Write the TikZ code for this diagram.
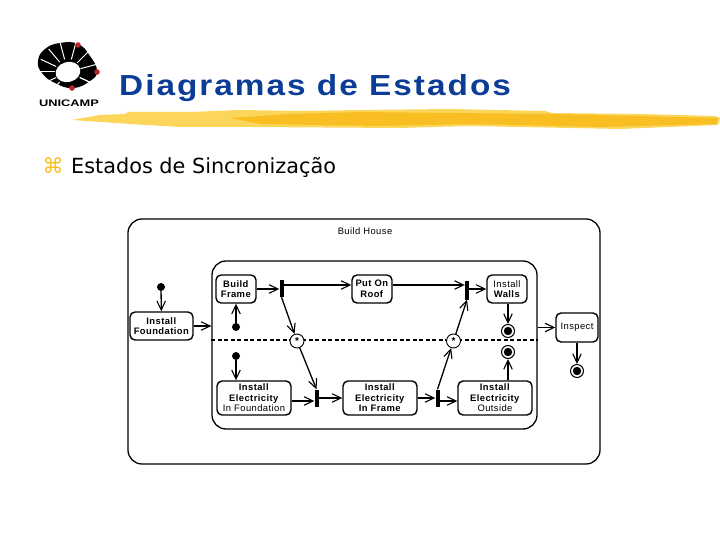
\documentclass[tikz,border=0pt]{standalone}
\usepackage{fontspec}
\usepackage{xcolor}
\usetikzlibrary{arrows.meta}
\setmainfont{Liberation Sans}
\newfontfamily\bodyfont{DejaVu Sans}
\newfontfamily\titlefont[LetterSpace=6,BoldFont={Liberation Sans Bold}]{Liberation Sans}
\newfontfamily\diagfont[LetterSpace=4.5,BoldFont={Liberation Sans Bold}]{Liberation Sans}
\definecolor{titleblue}{HTML}{0B3C96}
\definecolor{brushlight}{HTML}{FBD65A}
\definecolor{brushdark}{HTML}{F8BE22}
\definecolor{logored}{HTML}{B5232B}
\tikzset{
  statebox/.style={draw,line width=1.4pt,rounded corners=5pt,align=center,inner sep=0pt,font=\diagfont\fontsize{9.4}{10.6}\selectfont},
  regionbox/.style={draw,line width=1.3pt,rounded corners=14pt,inner sep=0pt},
  syncbar/.style={fill=black,inner sep=0pt,minimum width=4pt,minimum height=17pt},
  syncstar/.style={draw,circle,fill=white,line width=.9pt,minimum size=14pt,inner sep=0pt,font=\fontsize{10}{10}\selectfont\bfseries},
  startdot/.style={fill=black,circle,minimum size=8pt,inner sep=0pt},
  enddot/.style={draw,circle,line width=1pt,minimum size=13pt,inner sep=0pt,path picture={\fill (path picture bounding box.center) circle (4.2pt);}},
  trans/.style={line width=1.3pt,-{Straight Barb[length=9pt,width=8.5pt,line width=1.1pt]}},
}
\begin{document}
\begin{tikzpicture}[x=1pt,y=-1pt]
  \useasboundingbox (0,0) rectangle (720,540);
  % brush stroke under the title
  \fill[brushlight] (72,120) -- (100,115) -- (125,114) -- (128,112) -- (190,112) -- (240,110) -- (300,111) -- (360,110) -- (450,109) -- (545,111) -- (552,113) -- (640,114) -- (715,116) -- (720,118) -- (718,125) -- (620,129) -- (470,126) -- (400,128) -- (250,127) -- (180,127) -- (130,124) -- cycle;
  \fill[brushdark] (230,118) -- (290,114) -- (360,112) -- (550,114) -- (718,118) -- (716,124) -- (600,127) -- (470,124) -- (380,126) -- (260,124) -- cycle;
  % logo
  \fill plot[smooth cycle,tension=.8] coordinates {(78,44) (90,56) (97,71) (90,81) (73,88) (55,83) (42,73) (38,61) (45,49) (60,43)};
  \fill[white,rotate around={15:(68,72)}] (68,72) ellipse (12.5pt and 10pt);
  \foreach \a in {15,45,75,105,130,155,180,205,230,335,-25} {
    \draw[white,line width=1pt] (68,72) ++(\a:13pt) -- ++(\a:17pt);
  }
  \fill[logored] (78,45) circle (2.8pt) (97,72) circle (2.8pt) (72,88) circle (2.8pt);
  \node[inner sep=0pt,xscale=1.35,font=\fontsize{9.5}{10}\selectfont\bfseries] (logotext) at (69,103) {UNICAMP};
  % title and bullet
  \node[inner sep=0pt,anchor=base west,xscale=1.15,text=titleblue,font=\titlefont\fontsize{29}{32}\selectfont\bfseries] (title) at (119,96) {Diagramas de Estados};
  \node[inner sep=0pt,text=brushdark,font=\bodyfont\fontsize{21}{22}\selectfont] (bullet) at (53,166) {⌘};
  \node[inner sep=0pt,anchor=base west,font=\bodyfont\fontsize{20.8}{24}\selectfont] (subtitle) at (71,174) {Estados de Sincronização};
  % regions
  \node[regionbox,minimum width=472pt,minimum height=245pt] (house) at (364,341.5) {};
  \node[font=\diagfont\fontsize{9.4}{10}\selectfont,inner sep=0pt] (houselabel) at (365,231) {Build House};
  \node[regionbox,minimum width=325pt,minimum height=168pt] (inner) at (374.5,345) {};
  \coordinate (divleft) at (inner.west |- 0,340); \coordinate (divright) at (inner.east |- 0,340);
  \draw[line width=1.3pt,dash pattern=on 4pt off 2.5pt] (divleft) -- (divright);
  % states
  \node[statebox,minimum width=63pt,minimum height=28pt] (found) at (161.5,326) {\textbf{Install}\\\textbf{Foundation}};
  \node[statebox,minimum width=40pt,minimum height=28pt] (frame) at (236,289) {\textbf{Build}\\\textbf{Frame}};
  \node[statebox,minimum width=40pt,minimum height=28pt] (roof) at (372,289) {\textbf{Put On}\\\textbf{Roof}};
  \node[statebox,minimum width=40pt,minimum height=28pt] (walls) at (507,289) {Install\\\textbf{Walls}};
  \node[statebox,minimum width=42pt,minimum height=29pt] (inspect) at (577,327.5) {Inspect};
  \node[statebox,minimum width=74pt,minimum height=34pt] (elfound) at (254,398) {\textbf{Install}\\\textbf{Electricity}\\In Foundation};
  \node[statebox,minimum width=74pt,minimum height=34pt] (elframe) at (380,398) {\textbf{Install}\\\textbf{Electricity}\\\textbf{In Frame}};
  \node[statebox,minimum width=74pt,minimum height=34pt] (eloutside) at (495,398) {\textbf{Install}\\\textbf{Electricity}\\Outside};
  % sync bars and stars
  \node[syncbar] (barA) at (281.5,288.5) {};
  \node[syncbar,minimum height=19pt] (barB) at (467,290) {};
  \node[syncbar] (barC) at (316.5,398) {};
  \node[syncbar] (barD) at (437.5,398) {};
  \node[syncstar] (starA) at (297,341) {*};
  \node[syncstar] (starB) at (453.5,341) {*};
  % start and end dots
  \node[startdot] (startA) at (161,287) {};
  \node[startdot] (startB) at (236,327) {};
  \node[startdot] (startC) at (236,356) {};
  \node[enddot] (endA) at (508,331) {};
  \node[enddot] (endB) at (508,352) {};
  \node[enddot] (endC) at (577,371) {};
  % transitions
  \draw[trans] (startA) -- (found);
  \draw[trans] (startB) -- (frame);
  \draw[trans] (startC) -- (startC |- elfound.north);
  \draw[trans] (found.east) -- (found.east -| inner.west);
  \draw[trans] (frame.east) -- (barA.west |- frame.east);
  \draw[trans] ([yshift=4pt]barA.east |- roof.west) -- ([yshift=4pt]roof.west);
  \draw[trans] ([yshift=4pt]roof.east) -- ([yshift=4pt]barB.west |- roof.east);
  \draw[trans] (barB.east |- walls.west) -- (walls.west);
  \draw[trans] (endA |- walls.south) -- (endA);
  \draw[trans] (barA.south) -- (starA);
  \draw[trans] (starA) -- (barC.north);
  \draw[trans] (starB) -- (barB.south);
  \draw[trans] (barD.north) -- (starB);
  \draw[trans] ([yshift=-3pt]elfound.east) -- ([yshift=-3pt]barC.west);
  \draw[trans] (barC.east) -- (elframe.west);
  \draw[trans] (elframe.east) -- (barD.west);
  \draw[trans] ([yshift=-3pt]barD.east) -- ([yshift=-3pt]eloutside.west);
  \draw[trans] (endB |- eloutside.north) -- (endB);
  \draw[trans] (inspect.west -| inner.east) -- (inspect.west);
  \draw[trans] (inspect) -- (endC);
\end{tikzpicture}
\end{document}
